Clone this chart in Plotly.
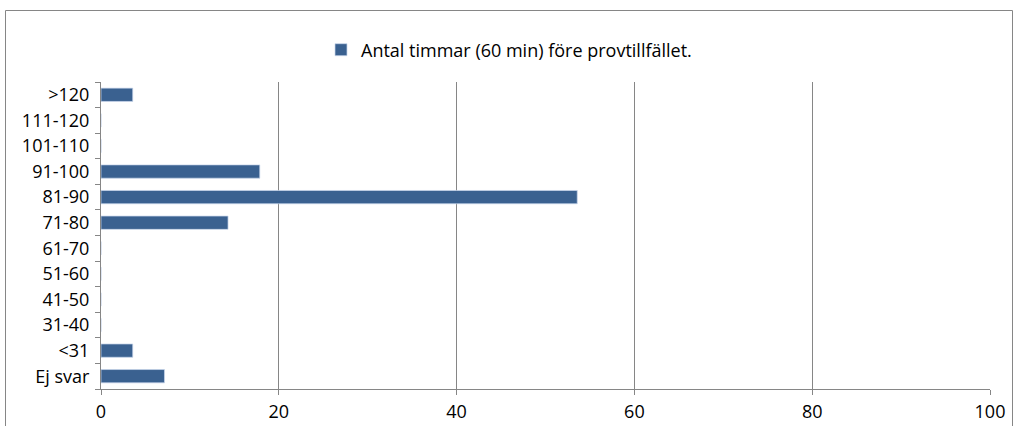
import plotly.graph_objects as go

categories = ["Ej svar", "<31", "31-40", "41-50", "51-60", "61-70", "71-80",
              "81-90", "91-100", "101-110", "111-120", ">120"]
values = [7.14, 3.57, 0, 0, 0, 0, 14.29, 53.57, 17.86, 0, 0, 3.57]
x_ticks = [0, 20, 40, 60, 80, 100]
series_name = "Antal timmar (60 min) före provtillfället."

GRAY = "#868686"
FONT = "Open Sans"
FS = 18

fig = go.Figure()
fig.add_trace(go.Bar(
    y=categories, x=values, orientation="h", name=series_name,
    marker=dict(color="#3A6190", line=dict(color="rgba(200,215,235,0.9)", width=0.8)),
    showlegend=True,
))

L, R, T, B = 101, 32, 82, 37
W, H = 1022, 426
pw, ph = W - L - R, H - T - B

def px_x(px):
    return (px - L) / pw

def px_y(py):
    return (H - B - py) / ph

fig.update_layout(
    width=W, height=H,
    margin=dict(l=L, r=R, t=T, b=B, pad=0, autoexpand=False),
    paper_bgcolor="white", plot_bgcolor="white",
    font=dict(family=FONT, size=FS, color="#000000"),
    bargap=0.48,
    showlegend=True,
    legend=dict(orientation="h", x=px_x(321), xanchor="left",
                y=px_y(50), yanchor="middle",
                font=dict(family=FONT, size=FS, color="#000000"),
                bgcolor="rgba(0,0,0,0)", itemclick=False),
    xaxis=dict(range=[0, 100], tickvals=x_ticks, showgrid=True, gridcolor=GRAY,
               gridwidth=1, zeroline=False, showline=True, linecolor=GRAY,
               linewidth=1, ticks="outside", ticklen=5, tickcolor=GRAY,
               ticklabelstandoff=1, automargin=False,
               tickfont=dict(family=FONT, size=FS), fixedrange=True),
    yaxis=dict(categoryorder="array", categoryarray=categories,
               showline=True, linecolor=GRAY, linewidth=1,
               ticks="outside", ticklen=5, tickcolor=GRAY, tickson="boundaries",
               showgrid=False, zeroline=False, ticklabelstandoff=7,
               automargin=False,
               tickfont=dict(family=FONT, size=FS), fixedrange=True),
    shapes=[dict(type="rect", xref="paper", yref="paper",
                 x0=px_x(5.5), x1=px_x(1012.5), y0=px_y(440), y1=px_y(10.5),
                 line=dict(color=GRAY, width=1), fillcolor="rgba(0,0,0,0)",
                 layer="below")],
)

fig.write_html("out.html",
               config={"displayModeBar": False},
               post_script="document.body.style.margin='0';document.body.style.overflow='hidden';")
